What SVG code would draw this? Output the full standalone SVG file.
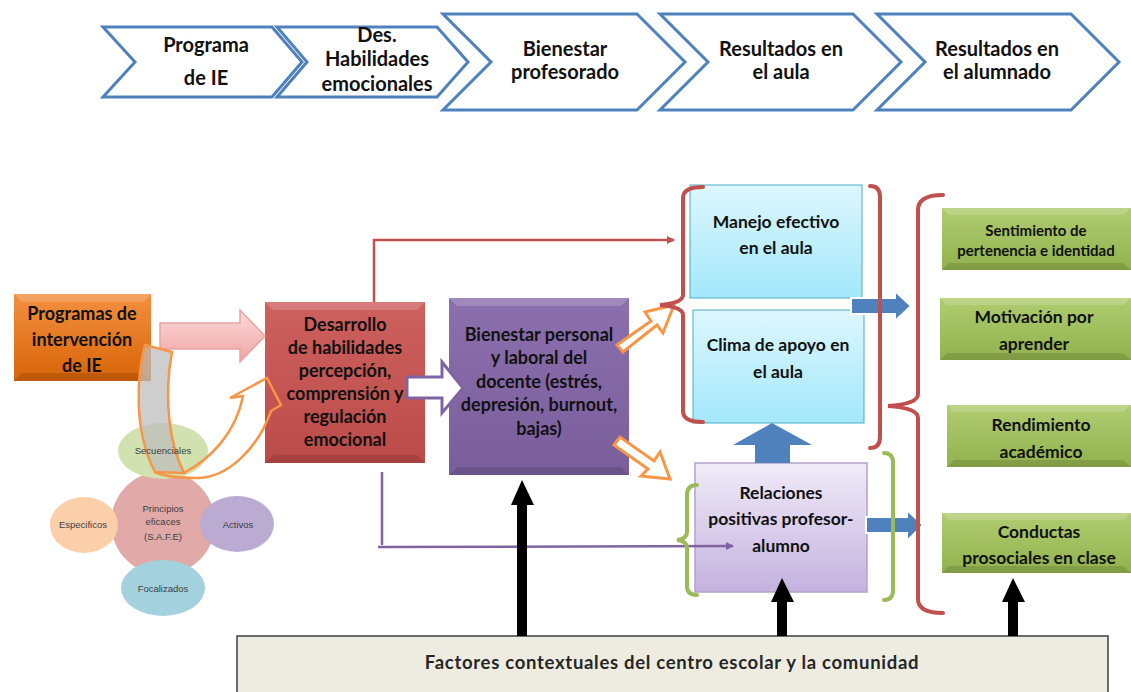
<svg xmlns="http://www.w3.org/2000/svg" width="1131" height="692" viewBox="0 0 1131 692">
<defs>
<linearGradient id="gOr" x1="0" y1="0" x2="0" y2="1"><stop offset="0" stop-color="#f39040"/><stop offset="1" stop-color="#d86407"/></linearGradient>
<linearGradient id="gRed" x1="0" y1="0" x2="0" y2="1"><stop offset="0" stop-color="#cd615e"/><stop offset="1" stop-color="#bb4b48"/></linearGradient>
<linearGradient id="gPur" x1="0" y1="0" x2="0" y2="1"><stop offset="0" stop-color="#8c70ae"/><stop offset="1" stop-color="#7a5e9c"/></linearGradient>
<linearGradient id="gGr" x1="0" y1="0" x2="0" y2="1"><stop offset="0" stop-color="#b0cc70"/><stop offset="1" stop-color="#91b24e"/></linearGradient>
<linearGradient id="gCy" x1="0" y1="0" x2="0" y2="1"><stop offset="0" stop-color="#ddf7fe"/><stop offset="1" stop-color="#a3e8fb"/></linearGradient>
<linearGradient id="gLav" x1="0" y1="0" x2="0" y2="1"><stop offset="0" stop-color="#f0ebf8"/><stop offset="1" stop-color="#c4b2df"/></linearGradient>
<linearGradient id="gPink" x1="0" y1="0" x2="0" y2="1"><stop offset="0" stop-color="#fcdada"/><stop offset="1" stop-color="#f0a4a4"/></linearGradient>
<marker id="mRed" markerWidth="8" markerHeight="8" refX="7" refY="4" orient="auto" markerUnits="userSpaceOnUse"><path d="M0,0 L8,4 L0,8 Z" fill="#c0504d"/></marker>
<marker id="mPur" markerWidth="8" markerHeight="8" refX="7" refY="4" orient="auto" markerUnits="userSpaceOnUse"><path d="M0,0 L8,4 L0,8 Z" fill="#8064a2"/></marker>
</defs>
<style>
.chev{fill:#fff;stroke:#4f81bd;stroke-width:3;stroke-linejoin:miter}
.t{font-family:Lato,"Liberation Sans",sans-serif;font-weight:bold;fill:#111;text-anchor:middle}
.c{font-size:20px}
.m{font-size:18px}
.n{font-size:17.5px}
.s{font-family:"Liberation Sans",Arial,sans-serif;font-size:9.5px;fill:#404040;text-anchor:middle}
.hol{fill:#fff;stroke:#f79646;stroke-width:3;stroke-linejoin:miter}
.blue{fill:#4f81bd;stroke:#fff;stroke-width:2}
.blk{fill:#000}
.brR{fill:none;stroke:#c0504d;stroke-width:4;stroke-linecap:round}
.brG{fill:none;stroke:#9bbb59;stroke-width:4;stroke-linecap:round}
.bevL{fill:#fff;opacity:0.18}
.bevD{fill:#000;opacity:0.12}
</style>

<g id="chevrons">
<g id="chev1"><path class="chev" d="M103,27 L272,27 L302,62 L272,97 L103,97 L135,62 Z"/>
<text class="t c" x="206" y="52">Programa</text><text class="t c" x="206" y="85">de IE</text></g>
<g id="chev2"><path class="chev" d="M277,27 L437,27 L468,62 L437,97 L277,97 L307,62 Z"/>
<text class="t c" x="377" y="42">Des.</text><text class="t c" x="377" y="66">Habilidades</text><text class="t c" x="377" y="91">emocionales</text></g>
<g id="chev3"><path class="chev" d="M443,14 L637,14 L685,62 L637,110 L443,110 L491,62 Z"/>
<text class="t c" x="565" y="56">Bienestar</text><text class="t c" x="565" y="79">profesorado</text></g>
<g id="chev4"><path class="chev" d="M660,14 L853,14 L901,62 L853,110 L660,110 L708,62 Z"/>
<text class="t c" x="781" y="56">Resultados en</text><text class="t c" x="781" y="79">el aula</text></g>
<g id="chev5"><path class="chev" d="M877,14 L1071,14 L1119,62 L1071,110 L877,110 L925,62 Z"/>
<text class="t c" x="997" y="56">Resultados en</text><text class="t c" x="997" y="79">el alumnado</text></g>
</g>

<g id="n-programas">
<rect x="14" y="294" width="137" height="87" fill="url(#gOr)"/>
<path class="bevL" d="M14,294 L151,294 L143,302 L22,302 Z"/><path class="bevD" d="M14,381 L151,381 L143,373 L22,373 Z"/>
<text class="t m" x="82" y="320">Programas de</text><text class="t m" x="82" y="346">intervención</text><text class="t m" x="82" y="372">de IE</text>
</g>

<g id="n-safe" opacity="0.85">
<circle cx="163" cy="523" r="52" fill="#dc9c9a"/>
<ellipse cx="163" cy="451" rx="45" ry="28" fill="#c9dca3"/>
<ellipse cx="84" cy="525" rx="34" ry="28" fill="#fbc79c"/>
<ellipse cx="237" cy="524" rx="37" ry="28" fill="#b09cc9"/>
<ellipse cx="163" cy="588" rx="42" ry="28" fill="#93cbd9"/>
</g>

<g id="n-desarrollo">
<rect x="265" y="302" width="160" height="161" fill="url(#gRed)"/>
<path class="bevL" d="M265,302 L425,302 L417,310 L273,310 Z"/><path class="bevD" d="M265,463 L425,463 L417,455 L273,455 Z"/>
<text class="t m" x="345" y="331">Desarrollo</text>
<text class="t m" x="345" y="354">de habilidades</text>
<text class="t m" x="345" y="377">percepción,</text>
<text class="t m" x="345" y="400">comprensión y</text>
<text class="t m" x="345" y="423">regulación</text>
<text class="t m" x="345" y="446">emocional</text>
</g>

<g id="n-bienestar">
<rect x="449" y="298" width="180" height="177" fill="url(#gPur)"/>
<path class="bevL" d="M449,298 L629,298 L621,306 L457,306 Z"/><path class="bevD" d="M449,475 L629,475 L621,467 L457,467 Z"/>
<text class="t m" x="539" y="341">Bienestar personal</text>
<text class="t m" x="539" y="364">y laboral del</text>
<text class="t m" x="539" y="388">docente (estrés,</text>
<text class="t m" x="539" y="411">depresión, burnout,</text>
<text class="t m" x="539" y="435">bajas)</text>
</g>

<g id="n-manejo">
<rect x="690" y="185" width="172" height="113" fill="url(#gCy)" stroke="#4bacc6" stroke-width="1"/>
<text class="t n" x="776" y="228">Manejo efectivo</text><text class="t n" x="776" y="254">en el aula</text>
</g>
<g id="n-clima">
<rect x="693" y="310" width="171" height="113" fill="url(#gCy)" stroke="#4bacc6" stroke-width="1"/>
<text class="t n" x="778" y="351">Clima de apoyo en</text><text class="t n" x="778" y="378">el aula</text>
</g>
<g id="n-relaciones">
<rect x="695" y="463" width="172" height="129" fill="url(#gLav)" stroke="#b3a2c7" stroke-width="1.5"/>
<text class="t n" x="781" y="499">Relaciones</text><text class="t n" x="781" y="525">positivas profesor-</text><text class="t n" x="781" y="552">alumno</text>
</g>

<g id="n-sentimiento">
<rect x="942" y="208" width="189" height="62" fill="url(#gGr)"/>
<path class="bevL" d="M942,208 L1131,208 L1123,215 L949,215 Z"/><path class="bevD" d="M942,270 L1131,270 L1123,263 L949,263 Z"/>
<text class="t" font-size="15" x="1036" y="236">Sentimiento de</text><text class="t" font-size="15" x="1036" y="256">pertenencia e identidad</text>
</g>
<g id="n-motivacion">
<rect x="940" y="298" width="191" height="62" fill="url(#gGr)"/>
<path class="bevL" d="M940,298 L1131,298 L1123,305 L947,305 Z"/><path class="bevD" d="M940,360 L1131,360 L1123,353 L947,353 Z"/>
<text class="t n" x="1034" y="323">Motivación por</text><text class="t n" x="1034" y="350">aprender</text>
</g>
<g id="n-rendimiento">
<rect x="947" y="405" width="184" height="62" fill="url(#gGr)"/>
<path class="bevL" d="M947,405 L1131,405 L1123,412 L954,412 Z"/><path class="bevD" d="M947,467 L1131,467 L1123,460 L954,460 Z"/>
<text class="t n" x="1041" y="431">Rendimiento</text><text class="t n" x="1041" y="458">académico</text>
</g>
<g id="n-conductas">
<rect x="942" y="513" width="189" height="60" fill="url(#gGr)"/>
<path class="bevL" d="M942,513 L1131,513 L1123,520 L949,520 Z"/><path class="bevD" d="M942,573 L1131,573 L1123,566 L949,566 Z"/>
<text class="t n" x="1039" y="538">Conductas</text><text class="t n" x="1039" y="564">prosociales en clase</text>
</g>

<g id="n-factores">
<rect x="237" y="636" width="871" height="70" fill="#eeece1" stroke="#3f3f3f" stroke-width="1.5"/>
<text x="672" y="669" font-family="Lato,'Liberation Sans',sans-serif" font-weight="bold" font-size="18.5" letter-spacing="0.7" fill="#262626" text-anchor="middle">Factores contextuales del centro escolar y la comunidad</text>
</g>

<g id="connectors">
<!-- pink arrow -->
<path d="M160,323 L240,323 L240,310 L265,336 L240,362 L240,349 L160,349 Z" fill="url(#gPink)" stroke="#e8a3a3" stroke-width="1.5"/>
<!-- curved arrow: back (gray) and front (outlined) -->
<path d="M145,345 C137,375 133,430 155,472 L184,473 C170,445 163,400 172,352 Z" fill="#bdbdbd" fill-opacity="0.75" stroke="#f79646" stroke-width="2.5"/>
<path d="M184,473 C212,458 236,432 243,396 L230,398 L267,378 L281,405 L271,411 C258,448 228,478 197,478 C180,478 166,477 155,472" fill="none" stroke="#f79646" stroke-width="2.5" stroke-linejoin="miter"/>
<!-- red line to Manejo -->
<path d="M374,302 L374,240 L674,240" fill="none" stroke="#c0504d" stroke-width="2.5" marker-end="url(#mRed)"/>
<!-- purple line to Relaciones -->
<path d="M382,472 L382,545 M378,547 L733,546" fill="none" stroke="#8064a2" stroke-width="2.5" marker-end="url(#mPur)"/>
<!-- white arrow red->purple -->
<path d="M407,377 L442,377 L442,362 L463,388 L442,413 L442,398 L407,398 Z" fill="#fff" stroke="#8064a2" stroke-width="3"/>
<!-- hollow orange arrows -->
<path class="hol" d="M617,345 L651,321 L645,312 L674,305 L663,333 L657,325 L623,352 Z"/>
<path class="hol" d="M614,445 L620,437 L654,461 L660,452 L670,479 L641,476 L648,469 Z"/>
<!-- blue arrows -->
<path class="blue" d="M851,298 L895,298 L895,291 L911,306 L895,321 L895,314 L851,314 Z"/>
<path class="blue" d="M866,517 L907,517 L907,510 L923,525 L907,541 L907,533 L866,533 Z"/>
<path d="M755,463 L755,445 L733,445 L772,423 L812,445 L790,445 L790,463 Z" fill="#4f81bd"/>
<!-- black arrows -->
<path class="blk" d="M517,636 L517,505 L511,505 L522,480 L534,505 L527,505 L527,636 Z"/>
<path class="blk" d="M777,636 L777,602 L771,602 L782,578 L794,602 L787,602 L787,636 Z"/>
<path class="blk" d="M1008,636 L1008,602 L1002,602 L1013,578 L1025,602 L1018,602 L1018,636 Z"/>
<!-- brackets -->
<path class="brR" d="M703,187 Q683,187 683,198 L683,295 Q683,303 660,305 Q683,307 683,315 L683,411 Q683,422 703,422"/>
<path class="brR" d="M870,186 Q880,186 880,197 L880,437 Q880,448 870,448"/>
<path class="brR" d="M943,195 Q918,195 918,210 L918,394 Q918,404 888,406 Q918,408 918,418 L918,599 Q918,613 943,613"/>
<path class="brG" d="M697,485 Q687,485 687,495 L687,532 Q687,539 677,540 Q687,541 687,548 L687,586 Q687,595 697,595"/>
<path class="brG" d="M884,453 Q893,453 893,463 L893,590 Q893,600 884,600"/>
</g>

<g id="n-safe-text">
<text class="s" x="163" y="454">Secuenciales</text>
<text class="s" x="163" y="512">Principios</text><text class="s" x="163" y="525">eficaces</text><text class="s" x="163" y="540">(S.A.F.E)</text>
<text class="s" x="83" y="528">Especificos</text>
<text class="s" x="238" y="528">Activos</text>
<text class="s" x="163" y="592">Focalizados</text>
</g>
</svg>
